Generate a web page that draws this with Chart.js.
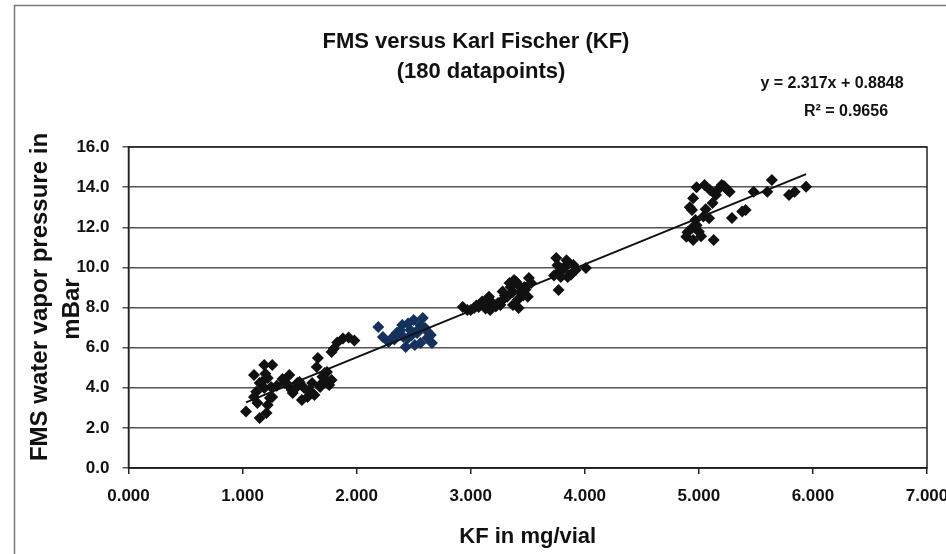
<!DOCTYPE html>
<html>
<head>
<meta charset="utf-8">
<title>FMS versus Karl Fischer (KF)</title>
<script src="https://cdn.jsdelivr.net/npm/chart.js@4.4.1/dist/chart.umd.min.js"></script>
<style>
  html, body { margin: 0; padding: 0; background: #fff; }
  #wrap { position: relative; width: 946px; height: 554px; }
</style>
</head>
<body>
<div id="wrap"><canvas id="chart" width="946" height="554"></canvas></div>
<script>
// ------------------------------------------------------------
// Data (KF in mg/vial, FMS in mBar)
// ------------------------------------------------------------
const TITLE_LINES = ['FMS versus Karl Fischer (KF)', '(180 datapoints)'];
const EQUATION = 'y = 2.317x + 0.8848';
const R_SQUARED = 'R\u00B2 = 0.9656';
const X_TITLE = 'KF in mg/vial';
const Y_TITLE = ['FMS water vapor pressure in', 'mBar'];

const blackX = [
  1.03, 1.15, 1.21, 1.13, 1.22, 1.26, 1.10, 1.19, 1.26, 1.15, 1.22, 1.10, 1.41, 1.37,
  1.43, 1.52, 1.54, 1.50, 1.61, 1.66, 1.65, 1.72, 1.75, 1.68, 1.61, 1.57, 1.78, 1.17,
  1.25, 1.19, 1.44, 1.48, 1.63, 1.74, 1.76, 1.68, 1.24, 1.35, 1.39, 1.78, 1.30, 1.46,
  1.58, 1.70, 1.12, 1.20,
  1.80, 1.83, 1.88, 1.93, 1.98,
  2.93, 2.97, 3.03, 3.07, 3.11, 3.16, 3.17, 3.24, 3.28, 3.32, 3.35, 3.37, 3.40, 3.41,
  3.42, 3.44, 3.47, 3.50, 3.51, 3.53, 3.37, 3.00, 3.15, 3.19, 3.26, 3.34, 3.38, 3.10,
  3.22, 3.46, 3.30, 3.42, 3.28, 3.05, 3.13, 3.48,
  3.75, 3.77, 3.77, 3.82, 3.85, 3.90, 3.92, 4.01, 3.79, 3.86, 3.80, 3.88, 3.73, 3.76, 3.84,
  4.98, 5.05, 4.95, 4.94, 5.15, 5.12, 5.04, 5.09, 4.97, 5.20, 5.25, 5.27, 4.89, 4.95,
  5.00, 4.94, 5.13, 5.29, 5.38, 5.41, 5.48, 5.60, 5.64, 5.79, 5.84, 5.94, 4.92, 4.98,
  5.06, 5.18, 4.90, 5.02, 5.10, 5.22
];
const blackY = [
  2.81, 2.49, 2.74, 3.24, 3.14, 3.54, 4.64, 5.13, 5.13, 4.24, 4.49, 3.54, 4.64, 4.24,
  3.89, 3.39, 3.99, 4.29, 4.24, 5.48, 5.03, 4.74, 4.29, 4.14, 3.74, 3.54, 5.78, 4.29,
  4.04, 3.99, 3.74, 4.24, 3.64, 4.79, 4.14, 4.04, 3.49, 4.44, 4.19, 4.39, 4.10, 3.95,
  3.85, 4.55, 3.80, 4.70,
  5.95, 6.25, 6.45, 6.50, 6.35,
  8.03, 7.88, 7.98, 8.03, 8.13, 8.53, 7.88, 8.23, 8.38, 8.53, 9.02, 8.77, 9.27, 8.38,
  7.98, 8.72, 9.02, 8.53, 9.47, 9.22, 8.13, 7.88, 8.30, 8.23, 8.13, 9.22, 9.37, 8.30,
  8.05, 8.60, 8.60, 9.10, 8.80, 8.10, 7.95, 8.90,
  10.47, 8.87, 9.77, 9.97, 9.52, 10.12, 9.87, 9.97, 9.52, 10.22, 9.95, 9.65, 9.60, 10.10, 10.35,
  14.00, 14.10, 13.44, 12.86, 13.61, 13.21, 12.53, 12.45, 12.36, 14.11, 13.86, 13.77, 11.53, 11.37,
  11.78, 11.96, 11.37, 12.46, 12.78, 12.86, 13.77, 13.77, 14.36, 13.61, 13.77, 14.02, 13.00, 12.10,
  12.90, 13.95, 11.75, 11.55, 13.85, 14.05
];

const blueX = [
  2.19, 2.23, 2.28, 2.31, 2.35, 2.40, 2.41, 2.45, 2.47, 2.50, 2.53, 2.56, 2.58,
  2.60, 2.62, 2.65, 2.66, 2.51, 2.43, 2.56, 2.33, 2.38, 2.48, 2.54, 2.45, 2.62
];
const blueY = [
  7.03, 6.53, 6.28, 6.48, 6.73, 7.13, 6.53, 6.48, 6.88, 7.38, 6.73, 6.23, 7.48,
  6.98, 6.48, 6.63, 6.23, 6.13, 6.03, 7.13, 6.40, 6.85, 6.60, 6.90, 7.20, 6.80
];

// linear trend line end points, as drawn
const trendX = [1.03, 5.94];
const trendY = [3.27, 14.65];

// ------------------------------------------------------------
const FONT = '"Liberation Sans", Arial, sans-serif';
const INK = '#111';

function toPoints(xs, ys) {
  return xs.map((x, i) => ({ x: x, y: ys[i] }));
}

// titles, y title, equation, outer frame and plot border (Excel look)
const excelDecor = {
  id: 'excelDecor',
  beforeDraw(chart) {
    const c = chart.ctx;
    c.save();
    c.strokeStyle = '#777';
    c.lineWidth = 1.5;
    c.beginPath();
    c.moveTo(14.5, 554);
    c.lineTo(14.5, 5.5);
    c.lineTo(946, 5.5);
    c.stroke();
    c.restore();
  },
  afterDraw(chart) {
    const c = chart.ctx;
    const a = chart.chartArea;
    c.save();
    c.strokeStyle = '#222';
    c.lineWidth = 1.5;
    c.strokeRect(a.left, a.top, a.right - a.left, a.bottom - a.top);

    c.fillStyle = INK;
    c.textAlign = 'center';
    c.textBaseline = 'middle';
    c.font = 'bold 22px ' + FONT;
    c.fillText(TITLE_LINES[0], 476, 42);
    c.fillText(TITLE_LINES[1], 481, 72);
    c.font = 'bold 16px ' + FONT;
    c.fillText(EQUATION, 832, 84);
    c.fillText(R_SQUARED, 846, 112);

    // rotated two-line y-axis title
    c.font = 'bold 24px ' + FONT;
    c.save();
    c.translate(40, 297);
    c.rotate(-Math.PI / 2);
    c.fillText(Y_TITLE[0], 0, 0);
    c.restore();
    c.save();
    c.translate(72, 309);
    c.rotate(-Math.PI / 2);
    c.fillText(Y_TITLE[1], 0, 0);
    c.restore();
    c.restore();
  }
};

const chart = new Chart(document.getElementById('chart'), {
  type: 'scatter',
  data: {
    datasets: [
      {
        type: 'line',
        label: 'Linear fit',
        data: toPoints(trendX, trendY),
        borderColor: '#111',
        borderWidth: 2,
        pointRadius: 0,
        fill: false,
      },
      {
        label: 'KF samples',
        data: toPoints(blackX, blackY),
        pointStyle: 'rectRot',
        pointRadius: 6,
        pointBackgroundColor: '#111',
        pointBorderWidth: 0,
      },
      {
        label: 'KF samples (blue)',
        data: toPoints(blueX, blueY),
        pointStyle: 'rectRot',
        pointRadius: 6,
        pointBackgroundColor: '#15325e',
        pointBorderWidth: 0,
      },
    ],
  },
  options: {
    responsive: false,
    animation: false,
    devicePixelRatio: 1,
    layout: { padding: { left: 20, right: 19, top: 147, bottom: 4 } },
    plugins: {
      legend: { display: false },
      tooltip: { enabled: false },
    },
    scales: {
      x: {
        type: 'linear',
        min: 0, max: 7,
        ticks: {
          stepSize: 1,
          maxRotation: 0,
          padding: 12,
          color: INK,
          font: { family: FONT, size: 17, weight: 'bold' },
          callback: v => v.toFixed(3),
        },
        grid: { drawOnChartArea: false, drawTicks: true, tickLength: 6, color: '#222', lineWidth: 1.5 },
        border: { color: '#111', width: 1.5 },
        title: {
          display: true,
          text: X_TITLE,
          color: INK,
          font: { family: FONT, size: 22, weight: 'bold', lineHeight: 1.2 },
          padding: { top: 0, bottom: 0 },
        },
        afterFit(s) { s.height = 82; s.paddingLeft = 0; s.paddingRight = 0; },
      },
      y: {
        min: 0, max: 16,
        ticks: {
          stepSize: 2,
          padding: 13,
          color: INK,
          font: { family: FONT, size: 17, weight: 'bold' },
          callback: v => v.toFixed(1),
        },
        grid: { color: '#555', lineWidth: 1.5, tickLength: 6 },
        border: { color: '#111', width: 1.5 },
        title: { display: false },
        afterFit(s) { s.width = 108.5; s.paddingTop = 0; s.paddingBottom = 0; },
      },
    },
  },
  plugins: [excelDecor],
});
</script>
</body>
</html>
